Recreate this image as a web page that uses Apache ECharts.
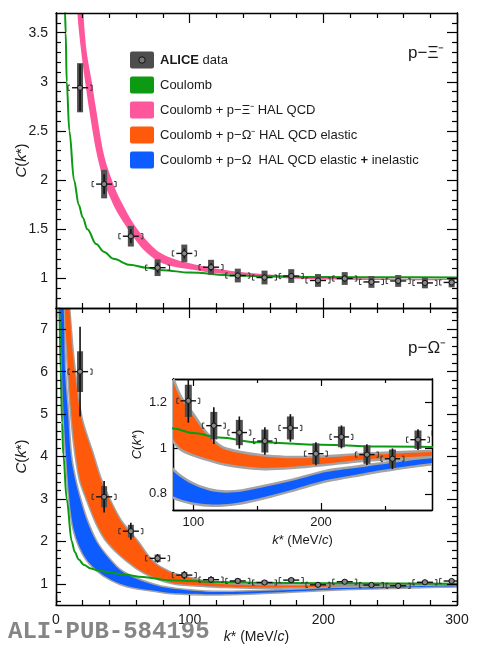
<!DOCTYPE html>
<html>
<head>
<meta charset="utf-8">
<title>p-Xi and p-Omega correlation functions</title>
<script src="https://cdn.jsdelivr.net/npm/echarts@6.0.0/dist/echarts.min.js"></script>
<style>
html,body{margin:0;padding:0;background:#fff;}
#container{width:486px;height:650px;}
</style>
</head>
<body>
<div id="container"></div>
<script>
    var FONT = 'Liberation Sans, Arial, Helvetica, sans-serif';

    // ---- p-Xi data (top panel) ----
    var kXi    = [18, 36, 56, 76, 96, 116, 136, 156, 176, 196, 216, 236, 256, 276, 296];
    var cXi    = [2.94, 1.96, 1.43, 1.11, 1.255, 1.115, 1.03, 1.01, 1.025, 0.98, 1.0, 0.965, 0.975, 0.955, 0.96];
    var statXi = [0.24, 0.10, 0.07, 0.05, 0.05, 0.04, 0.03, 0.03, 0.03, 0.03, 0.03, 0.03, 0.03, 0.03, 0.03];
    var sysXi  = [0.25, 0.145, 0.105, 0.085, 0.09, 0.075, 0.07, 0.07, 0.07, 0.065, 0.065, 0.06, 0.06, 0.055, 0.05];

    // ---- p-Omega data (bottom panel + inset) ----
    var kOm    = [18, 36, 56, 76, 96, 116, 136, 156, 176, 196, 216, 236, 256, 276, 296];
    var cOm    = [6.0, 3.05, 2.24, 1.60, 1.205, 1.097, 1.067, 1.03, 1.087, 0.975, 1.048, 0.971, 0.953, 1.036, 1.065];
    var statOm = [1.06, 0.37, 0.20, 0.10, 0.095, 0.08, 0.07, 0.06, 0.06, 0.05, 0.05, 0.045, 0.045, 0.045, 0.04];
    var sysOm  = [0.48, 0.25, 0.15, 0.09, 0.07, 0.06, 0.055, 0.05, 0.05, 0.045, 0.045, 0.04, 0.04, 0.04, 0.035];

    // ---- model curves, [k*, C] ----
    var xiCoulomb = [[5.5,4.6],[6.75,3.7],[7.25,3.5],[8,3.0],[10,2.5],[13.5,2.0],[17,1.75],[20,1.62],[23.5,1.5],[30,1.35],
        [36,1.27],[43,1.2],[55,1.14],[68,1.11],[80,1.085],[100,1.06],[133,1.03],[160,1.022],[200,1.015],[250,1.012],[300,1.01]];
    var xiHalUp = [[19,4.2],[20.5,3.7],[23,3.3],[26.8,3.0],[30,2.72],[36,2.25],[44,1.92],[50,1.75],[57,1.58],[65,1.43],
        [77,1.27],[90,1.19],[100,1.155],[116,1.11],[130,1.08],[150,1.05],[175,1.025],[200,1.01],[240,1.0],[300,0.995]];
    var xiHalLo = [[14.5,4.2],[16,3.7],[18.5,3.35],[21.8,3.0],[25,2.7],[30,2.3],[36,1.98],[44,1.72],[50,1.58],[57,1.44],
        [65,1.3],[77,1.17],[90,1.115],[100,1.095],[116,1.06],[130,1.04],[150,1.02],[175,1.0],[200,0.99],[240,0.985],[300,0.985]];

    var omCoulomb = [[2,8.2],[2.5,7.5],[3.5,6.0],[4.5,4.8],[5.5,4.04],[8,3.0],[11.75,2.0],[14,1.75],[17,1.57],[21,1.44],
        [26,1.36],[32,1.31],[38,1.28],[50,1.22],[65,1.16],[84,1.085],[100,1.065],[120,1.045],[150,1.025],[200,1.014],[250,1.006],[300,1.003]];
    var omElUp = [[9.5,7.6],[12,6.6],[14,6.0],[19,4.9],[27,4.1],[33,3.5],[39,3.05],[48,2.5],[55.5,2.2],[62,1.95],[68,1.68],
        [75.5,1.44],[84,1.29],[90,1.215],[99,1.146],[109,1.067],[122,1.0],[139,0.975],[156,0.962],[177,0.955],[204,0.958],
        [230,0.968],[260,0.976],[287,0.982],[300,0.984]];
    var omElLo = [[6.5,7.6],[8.5,6.4],[10.5,5.4],[12.5,4.65],[14.5,4.1],[18,3.45],[23,3.0],[30,2.45],[37,2.05],[48,1.68],
        [60,1.38],[70,1.2],[78,1.1],[84,1.04],[90,1.0],[99,0.975],[113,0.95],[125,0.932],[139,0.92],[156,0.913],[177,0.918],
        [204,0.932],[230,0.948],[260,0.958],[287,0.965],[300,0.967]];
    var omInUp = [[5.5,7.6],[6.75,6.0],[9,5.0],[11,4.05],[14,3.5],[18,3.0],[23,2.5],[30,2.0],[38,1.65],[48,1.32],[60,1.12],
        [73,0.98],[84,0.9],[98,0.845],[112,0.815],[125,0.805],[138,0.81],[160,0.835],[180,0.86],[204,0.895],[230,0.915],
        [260,0.938],[287,0.955],[300,0.96]];
    var omInLo = [[3.2,7.6],[4.5,6.0],[6,4.8],[7.5,4.05],[10,3.0],[12.5,2.4],[16,2.0],[20,1.72],[25.5,1.47],[35.5,1.2],[48,1.0],
        [60,0.9],[73,0.84],[84,0.79],[98,0.765],[112,0.755],[123,0.755],[138,0.765],[160,0.793],[180,0.823],[204,0.86],
        [230,0.887],[260,0.915],[287,0.935],[300,0.94]];

    // ---- tick values ----
    var xiMajor = [1, 1.5, 2, 2.5, 3, 3.5];
    var omMajor = [1, 2, 3, 4, 5, 6, 7];
    var insetXMajor = [100, 200];
    var insetXMinor = [150, 250];
    var insetYMajor = [0.8, 1, 1.2];
    var insetYMinor = [0.9, 1.1];

    var legendLabels = ['{b|ALICE} data', 'Coulomb', 'Coulomb + p\u2212\u039E\u207B HAL QCD',
        'Coulomb + p\u2212\u03A9\u207B HAL QCD elastic', 'Coulomb + p\u2212\u03A9  HAL QCD elastic {b|+} inelastic'];

    var GREEN = '#0b9a12', PINK = '#ff579b', ORANGE = '#ff5a0c', BLUE = '#0d5cff', EDGE = '#a3a3a3', BOX = '#505050';

    function minorTicks(from, to, step, major) {
        var out = [];
        for (var i = 0; ; i++) {
            var v = Math.round((from + i * step) * 1000) / 1000;
            if (v > to + 1e-9) break;
            if (Math.abs(v / major - Math.round(v / major)) > 1e-6) out.push(v);
        }
        return out;
    }
    var xiMinor = minorTicks(0.8, 3.6, 0.1, 0.5);
    var omMinor = minorTicks(0.6, 7.4, 0.2, 1);

    var lineBlack = {color: '#000', width: 1.3};
    function ax(o) {
        var base = {
            type: 'value',
            axisLine: {show: true, onZero: false, lineStyle: lineBlack},
            axisTick: {show: true, inside: true, length: 10, lineStyle: {color: '#000', width: 1.2}},
            axisLabel: {show: false},
            splitLine: {show: false},
            z: 5
        };
        for (var key in o) {
            if (typeof o[key] === 'object' && !Array.isArray(o[key]) && base[key]) {
                for (var k2 in o[key]) base[key][k2] = o[key][k2];
            } else {
                base[key] = o[key];
            }
        }
        return base;
    }
    var labelStyle = {show: true, fontSize: 14, color: '#1a1a1a', fontFamily: FONT, margin: 8};
    function nameStyle(size) {
        return {fontSize: size, fontFamily: FONT, color: '#1a1a1a',
            rich: {i: {fontStyle: 'italic', fontSize: size, fontFamily: FONT, color: '#1a1a1a'}}};
    }
    var minorX = {show: true, splitNumber: 5, length: 5, lineStyle: {color: '#000', width: 1.2}};

    var xAxes = [
        ax({gridIndex: 0, position: 'bottom', min: 0, max: 300, interval: 100, minorTick: minorX}),
        ax({gridIndex: 0, position: 'top', min: 0, max: 300, interval: 100, minorTick: minorX}),
        ax({gridIndex: 1, position: 'bottom', min: 0, max: 300, interval: 100, minorTick: minorX,
            axisLabel: labelStyle,
            name: '{i|k}* (MeV/{i|c})', nameLocation: 'middle', nameGap: 25, nameTextStyle: nameStyle(14)}),
        ax({gridIndex: 1, position: 'top', min: 0, max: 300, interval: 100, minorTick: minorX}),
        ax({gridIndex: 2, position: 'bottom', min: 84, max: 287,
            axisTick: {length: 7, customValues: insetXMajor},
            axisLabel: {show: true, fontSize: 13, color: '#1a1a1a', fontFamily: FONT, margin: 6, customValues: insetXMajor},
            name: '{i|k}* (MeV/{i|c})', nameLocation: 'middle', nameGap: 24, nameTextStyle: nameStyle(13)}),
        ax({gridIndex: 2, position: 'bottom', min: 84, max: 287, axisTick: {length: 4, customValues: insetXMinor}}),
        ax({gridIndex: 2, position: 'top', min: 84, max: 287, axisTick: {length: 7, customValues: insetXMajor}}),
        ax({gridIndex: 2, position: 'top', min: 84, max: 287, axisTick: {length: 4, customValues: insetXMinor}})
    ];

    var yAxes = [
        ax({gridIndex: 0, position: 'left', min: 0.7, max: 3.7, axisTick: {customValues: xiMajor},
            axisLabel: {show: true, fontSize: 14, color: '#1a1a1a', fontFamily: FONT, margin: 8, customValues: xiMajor},
            name: '{i|C}({i|k}*)', nameLocation: 'middle', nameGap: 27, nameMoveOverlap: false, nameRotate: 90,
            nameTextStyle: nameStyle(15)}),
        ax({gridIndex: 0, position: 'left', min: 0.7, max: 3.7, axisTick: {length: 5, customValues: xiMinor}}),
        ax({gridIndex: 0, position: 'right', min: 0.7, max: 3.7, axisTick: {customValues: xiMajor}}),
        ax({gridIndex: 0, position: 'right', min: 0.7, max: 3.7, axisTick: {length: 5, customValues: xiMinor}}),
        ax({gridIndex: 1, position: 'left', min: 0.5, max: 7.5, axisTick: {customValues: omMajor},
            axisLabel: {show: true, fontSize: 14, color: '#1a1a1a', fontFamily: FONT, margin: 8, customValues: omMajor},
            name: '{i|C}({i|k}*)', nameLocation: 'middle', nameGap: 27, nameMoveOverlap: false, nameRotate: 90,
            nameTextStyle: nameStyle(15)}),
        ax({gridIndex: 1, position: 'left', min: 0.5, max: 7.5, axisTick: {length: 5, customValues: omMinor}}),
        ax({gridIndex: 1, position: 'right', min: 0.5, max: 7.5, axisTick: {customValues: omMajor}}),
        ax({gridIndex: 1, position: 'right', min: 0.5, max: 7.5, axisTick: {length: 5, customValues: omMinor}}),
        ax({gridIndex: 2, position: 'left', min: 0.73, max: 1.30, axisTick: {length: 7, customValues: insetYMajor},
            axisLabel: {show: true, fontSize: 13, color: '#1a1a1a', fontFamily: FONT, margin: 6, customValues: insetYMajor},
            name: '{i|C}({i|k}*)', nameLocation: 'middle', nameGap: 29, nameMoveOverlap: false, nameRotate: 90,
            nameTextStyle: nameStyle(13)}),
        ax({gridIndex: 2, position: 'left', min: 0.73, max: 1.30, axisTick: {length: 4, customValues: insetYMinor}}),
        ax({gridIndex: 2, position: 'right', min: 0.73, max: 1.30, axisTick: {length: 7, customValues: insetYMajor}}),
        ax({gridIndex: 2, position: 'right', min: 0.73, max: 1.30, axisTick: {length: 4, customValues: insetYMinor}})
    ];

    function clipRect(params) {
        var cs = params.coordSys;
        return {type: 'rect', shape: {x: cs.x, y: cs.y, width: cs.width, height: cs.height}};
    }

    function bandSeries(xi, yi, upper, lower, fill, edge, edgeW, z) {
        return {
            type: 'custom', xAxisIndex: xi, yAxisIndex: yi, z: z, silent: true, clip: true,
            data: [[150, 1]],
            renderItem: function (params, api) {
                var up = upper.map(function (p) { return api.coord(p); });
                var lo = lower.map(function (p) { return api.coord(p); });
                var kids = [];
                if (edge) {
                    kids.push({type: 'polyline', shape: {points: up, smooth: 0.3}, style: {stroke: edge, lineWidth: edgeW, fill: null}});
                    kids.push({type: 'polyline', shape: {points: lo, smooth: 0.3}, style: {stroke: edge, lineWidth: edgeW, fill: null}});
                }
                kids.push({type: 'polygon', shape: {points: up.concat(lo.slice().reverse()), smooth: 0.3}, style: {fill: fill}});
                return {type: 'group', clipPath: clipRect(params), children: kids};
            }
        };
    }

    function curveSeries(xi, yi, pts, z) {
        return {type: 'line', xAxisIndex: xi, yAxisIndex: yi, data: pts, z: z, showSymbol: false, silent: true,
            smooth: 0.35, smoothMonotone: 'x', clip: true, lineStyle: {color: GREEN, width: 2}};
    }

    function pointSeries(xi, yi, ks, cs, stat, sys, boxW, z) {
        var data = ks.map(function (k, i) { return [k, cs[i], stat[i], sys[i]]; });
        return {
            type: 'custom', xAxisIndex: xi, yAxisIndex: yi, z: z, silent: true, clip: true, data: data,
            renderItem: function (params, api) {
                var k = api.value(0), c = api.value(1), st = api.value(2), sy = api.value(3);
                var p = api.coord([k, c]);
                var sT = api.coord([k, c + sy])[1], sB = api.coord([k, c - sy])[1];
                var eT = api.coord([k, c + st])[1], eB = api.coord([k, c - st])[1];
                var xl = api.coord([k - 6, c])[0], xr = api.coord([k + 6, c])[0];
                var bl = api.coord([k - 9, c])[0], br = api.coord([k + 9, c])[0];
                var h = 2.6;
                var ink = {stroke: '#111', lineWidth: 1.4};
                return {type: 'group', clipPath: clipRect(params), children: [
                    {type: 'rect', shape: {x: p[0] - boxW / 2, y: sT, width: boxW, height: sB - sT}, style: {fill: BOX}},
                    {type: 'line', shape: {x1: p[0], y1: eT, x2: p[0], y2: eB}, style: {stroke: '#111', lineWidth: 1.6}},
                    {type: 'line', shape: {x1: xl, y1: p[1], x2: xr, y2: p[1]}, style: ink},
                    {type: 'polyline', shape: {points: [[bl + 2, p[1] - h], [bl, p[1] - h], [bl, p[1] + h], [bl + 2, p[1] + h]]},
                        style: {stroke: '#333', lineWidth: 1, fill: null}},
                    {type: 'polyline', shape: {points: [[br - 2, p[1] - h], [br, p[1] - h], [br, p[1] + h], [br - 2, p[1] + h]]},
                        style: {stroke: '#333', lineWidth: 1, fill: null}},
                    {type: 'circle', shape: {cx: p[0], cy: p[1], r: 2.6}, style: {fill: '#888', stroke: '#111', lineWidth: 1}}
                ]};
            }
        };
    }

    var series = [
        // top: p-Xi
        bandSeries(0, 0, xiHalUp, xiHalLo, PINK, null, 0, 2),
        curveSeries(0, 0, xiCoulomb, 3),
        pointSeries(0, 0, kXi, cXi, statXi, sysXi, 6, 4),
        // bottom: p-Omega
        bandSeries(2, 4, omElUp, omElLo, ORANGE, EDGE, 3, 2),
        bandSeries(2, 4, omInUp, omInLo, BLUE, EDGE, 3, 2),
        curveSeries(2, 4, omCoulomb, 3),
        pointSeries(2, 4, kOm, cOm, statOm, sysOm, 6, 4),
        // inset
        bandSeries(4, 8, omElUp, omElLo, ORANGE, EDGE, 5, 6),
        bandSeries(4, 8, omInUp, omInLo, BLUE, EDGE, 5, 6),
        curveSeries(4, 8, omCoulomb, 7),
        pointSeries(4, 8, kOm, cOm, statOm, sysOm, 7, 8)
    ];

    var legendColors = ['#4d4d4d', GREEN, PINK, ORANGE, BLUE];
    var graphics = [];
    legendLabels.forEach(function (txt, i) {
        var cy = 60 + 25 * i;
        graphics.push({type: 'rect', left: 130, top: cy - 8.5, shape: {width: 24, height: 17, r: 2},
            style: {fill: legendColors[i]}, z: 10});
        graphics.push({type: 'text', x: 160, y: cy, z: 10, style: {text: txt, fontSize: 13, fontFamily: FONT,
            fill: '#1a1a1a', verticalAlign: 'middle',
            rich: {b: {fontWeight: 'bold', fontSize: 13, fontFamily: FONT, fill: '#1a1a1a'}}}});
    });
    graphics.push({type: 'circle', shape: {cx: 142, cy: 60, r: 3.2}, style: {fill: '#777', stroke: '#111', lineWidth: 1}, z: 11});
    graphics.push({type: 'text', x: 408, y: 53, z: 10, style: {text: 'p\u2212\u039E\u207B', fontSize: 17, fontFamily: FONT,
        fill: '#1a1a1a', verticalAlign: 'middle'}});
    graphics.push({type: 'text', x: 408, y: 348, z: 10, style: {text: 'p\u2212\u03A9\u207B', fontSize: 17, fontFamily: FONT,
        fill: '#1a1a1a', verticalAlign: 'middle'}});
    graphics.push({type: 'text', x: 8, y: 632, z: 10, style: {text: 'ALI-PUB-584195', fontSize: 24,
        fontFamily: 'Liberation Mono, DejaVu Sans Mono, monospace', fontWeight: 'bold', fill: '#858585', verticalAlign: 'middle'}});

    var option = {
        animation: false,
        backgroundColor: '#fff',
        grid: [
            {left: 56, top: 13, width: 401, height: 295},
            {left: 56, top: 308, width: 401, height: 297},
            {left: 173, top: 379, width: 259, height: 131}
        ],
        xAxis: xAxes,
        yAxis: yAxes,
        series: series,
        graphic: graphics
    };
    var myChart = echarts.init(document.getElementById('container'));
    myChart.setOption(option, true);
</script>
</body>
</html>
